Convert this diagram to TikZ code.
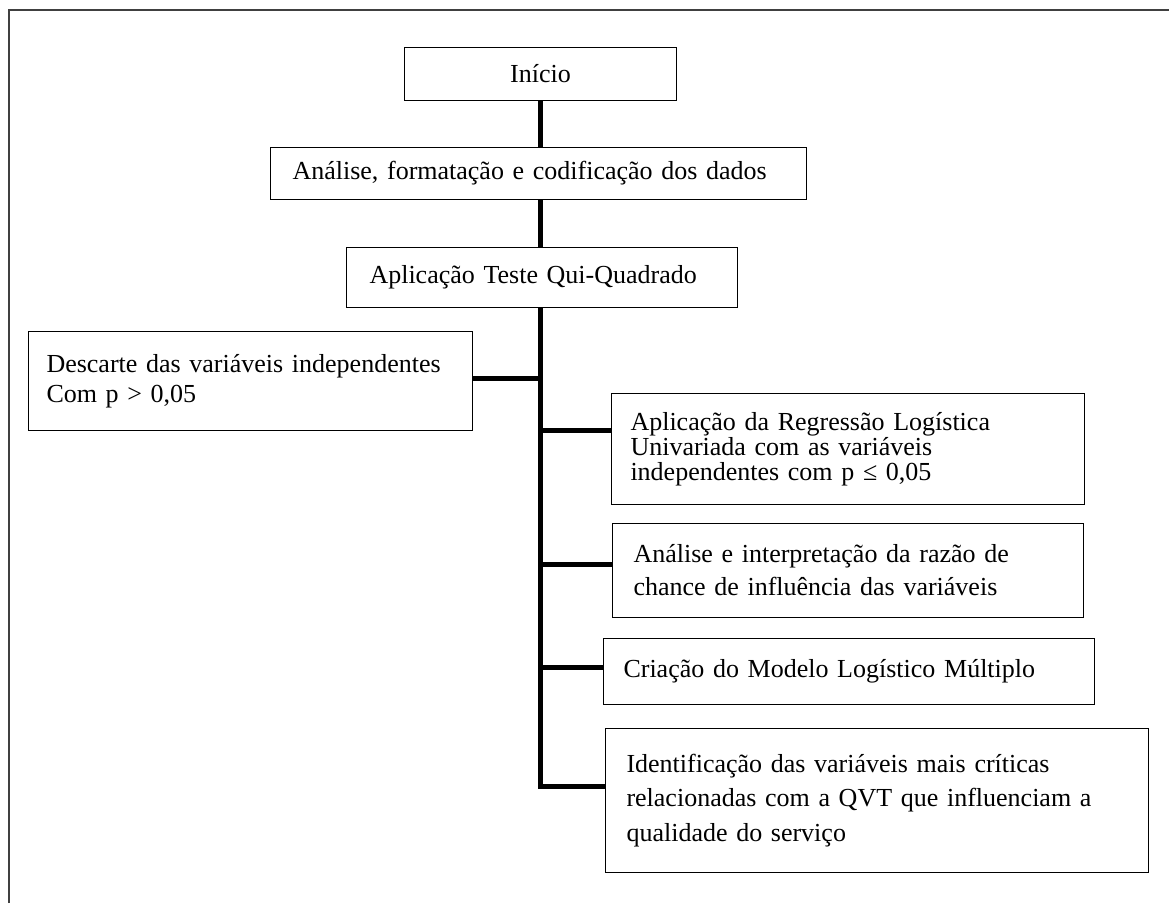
\documentclass[tikz,border=0pt]{standalone}
\usepackage{fontspec}
\setmainfont{Liberation Serif}
\usetikzlibrary{positioning}
\hyphenpenalty=10000
\lineskiplimit=-20pt
\tikzset{
  etapa/.style={draw, line width=1pt, anchor=north west, align=left, inner xsep=20pt, inner ysep=0pt, font=\fontsize{26}{30}\selectfont},
  ligacao/.style={line width=5pt},
  moldura/.style={line width=1.2pt, draw=black!75}
}

\begin{document}
\begin{tikzpicture}[x=1pt,y=-1pt]
\useasboundingbox (0,0) rectangle (1169,903);
\draw[moldura] (9,903) -- (9,10) -- (1169,10);
\node[etapa, align=center, text width=232pt, minimum height=53pt] (inicio) at (404,47) {Início};
\node[etapa, inner xsep=22pt, text width=492pt, minimum height=52pt] (analise) at (270,147) {Análise, formatação e codificação dos dados};
\node[etapa, inner xsep=23pt, text width=345pt, minimum height=60pt] (quiqua) at (346,247) {Aplicação Teste Qui-Quadrado};
\node[etapa, inner xsep=18pt, text width=408pt, minimum height=99pt, font=\fontsize{26}{30}\selectfont] (descarte) at (28,331) {Descarte das variáveis independentes\\Com p > 0,05\par\vspace{11pt}};
\node[etapa, inner xsep=19pt, text width=435pt, minimum height=111pt, font=\fontsize{26}{25}\selectfont] (regressao) at (611,393) {Aplicação da Regressão Logística\\Univariada com as variáveis\\independentes com p ≤ 0,05\par\vspace{5pt}};
\node[etapa, inner xsep=21pt, text width=429pt, minimum height=94pt, font=\fontsize{26}{33}\selectfont] (interp) at (612,523) {Análise e interpretação da razão de\\chance de influência das variáveis\par\vspace{12pt}};
\node[etapa, text width=451pt, minimum height=66pt] (criacao) at (603,638) {Criação do Modelo Logístico Múltiplo\par\vspace{12pt}};
\node[etapa, inner xsep=21pt, text width=501pt, minimum height=144pt, font=\fontsize{26}{34.5}\selectfont] (ident) at (605,728) {Identificação das variáveis mais críticas\\relacionadas com a QVT que influenciam a\\qualidade do serviço\par\vspace{19pt}};
\coordinate[yshift=2.5pt] (lig1) at (descarte.east);
\coordinate[yshift=18.5pt] (lig2) at (regressao.west);
\coordinate[yshift=6pt] (lig3) at (interp.west);
\coordinate[yshift=4pt] (lig4) at (criacao.west);
\coordinate[yshift=14pt] (lig5) at (ident.west);
\draw[ligacao] (inicio.south) -- (inicio.south |- analise.north);
\draw[ligacao] (analise.south -| inicio.south) -- (quiqua.north -| inicio.south);
\draw[ligacao] (quiqua.south -| inicio.south) |- (lig5);
\draw[ligacao] (lig1) -- (lig1 -| inicio.south);
\draw[ligacao] (lig2) -- (lig2 -| inicio.south);
\draw[ligacao] (lig3) -- (lig3 -| inicio.south);
\draw[ligacao] (lig4) -- (lig4 -| inicio.south);
\end{tikzpicture}
\end{document}
